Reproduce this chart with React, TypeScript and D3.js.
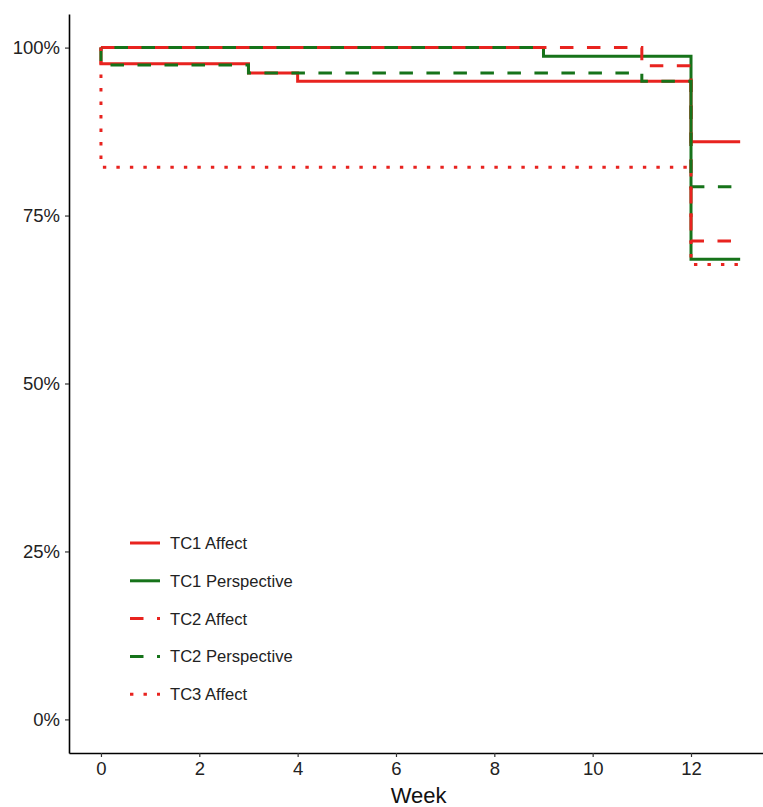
import React, { useEffect, useRef } from 'react';
import * as d3 from 'd3';

// survival-style step data (week, proportion)
const tc1AffectWeeks = [0, 0, 3, 4, 12, 13];
const tc1AffectVals = [1, 0.976, 0.962, 0.95, 0.86, 0.86];

const tc1PerspWeeks = [0, 9, 12, 13];
const tc1PerspVals = [1, 0.987, 0.685, 0.685];

const tc2AffectWeeks = [0, 11, 12, 13];
const tc2AffectVals = [1, 0.973, 0.712, 0.712];

const tc2PerspWeeks = [0, 0, 3, 11, 12, 13];
const tc2PerspVals = [1, 0.974, 0.962, 0.95, 0.793, 0.793];

const tc3AffectWeeks = [0, 0, 12, 13];
const tc3AffectVals = [1, 0.822, 0.677, 0.677];

const seriesNames = ['TC1 Affect', 'TC1 Perspective', 'TC2 Affect', 'TC2 Perspective', 'TC3 Affect'];
const xTicks = [0, 2, 4, 6, 8, 10, 12];
const yTicks = [0, 0.25, 0.5, 0.75, 1];

const RED = '#e8231f';
const GREEN = '#16731a';

export default function App() {
    const ref = useRef<SVGSVGElement>(null);

    useEffect(() => {
        const svg = d3.select(ref.current);
        svg.selectAll('*').remove();

        const left = 69;
        const top = 14;
        const bottom = 753;
        const font = 'Liberation Sans, Arial, sans-serif';

        const x = d3.scaleLinear().domain([-0.65, 13.65]).range([left, left + 14.3 * 49.17]);
        const y = d3.scaleLinear().domain([-0.05, 1.05]).range([bottom, top]);

        const series = [
            { name: seriesNames[0], weeks: tc1AffectWeeks, vals: tc1AffectVals, color: RED, dash: null },
            { name: seriesNames[1], weeks: tc1PerspWeeks, vals: tc1PerspVals, color: GREEN, dash: null },
            { name: seriesNames[2], weeks: tc2AffectWeeks, vals: tc2AffectVals, color: RED, dash: '13.5,13.5' },
            { name: seriesNames[3], weeks: tc2PerspWeeks, vals: tc2PerspVals, color: GREEN, dash: '13.5,13.5' },
            { name: seriesNames[4], weeks: tc3AffectWeeks, vals: tc3AffectVals, color: RED, dash: '3.4,10.1' },
        ];

        const line = d3.line<[number, number]>()
            .x(d => x(d[0]))
            .y(d => y(d[1]))
            .curve(d3.curveStepAfter);

        //draw step lines
        series.forEach(s => {
            const pts = s.weeks.map((w, i) => [w, s.vals[i]] as [number, number]);
            svg.append('path')
                .attr('d', line(pts))
                .attr('fill', 'none')
                .attr('stroke', s.color)
                .attr('stroke-width', 3)
                .attr('stroke-dasharray', s.dash)
        });

        //axes
        const xAxis = svg.append('g')
            .attr('transform', `translate(0,${bottom})`)
            .call(d3.axisBottom(x).tickValues(xTicks).tickSize(4).tickSizeOuter(0).tickPadding(5));
        const yAxis = svg.append('g')
            .attr('transform', `translate(${left},0)`)
            .call(d3.axisLeft(y).tickValues(yTicks).tickSize(4).tickSizeOuter(0).tickPadding(5)
                .tickFormat(d => `${Math.round(+d * 100)}%`));

        [xAxis, yAxis].forEach(g => {
            g.select('.domain').attr('stroke', '#000').attr('stroke-width', 1.6);
            g.selectAll('.tick line').attr('stroke', '#333').attr('stroke-width', 1.2);
            g.selectAll('.tick text').attr('fill', '#222').attr('font-size', 18.5).attr('font-family', font);
        });

        svg.append('text')
            .attr('x', x(6.5) - 2)
            .attr('y', 803)
            .attr('text-anchor', 'middle')
            .attr('font-size', 22)
            .attr('font-family', font)
            .attr('fill', '#111')
            .text('Week');

        //legend
        const legend = svg.append('g').attr('transform', 'translate(130,543)');
        series.forEach((s, i) => {
            const row = legend.append('g').attr('transform', `translate(0,${i * 37.8})`);
            row.append('line')
                .attr('x1', 0).attr('x2', 30)
                .attr('stroke', s.color)
                .attr('stroke-width', 3)
                .attr('stroke-dasharray', s.dash);
            row.append('text')
                .attr('x', 40)
                .attr('y', 6)
                .attr('font-size', 16.6)
                .attr('font-family', font)
                .attr('fill', '#222')
                .text(s.name);
        });
    }, []);

    return <svg ref={ref} width={763} height={807} style={{ display: 'block', position: 'absolute', left: 0, top: 0 }} />;
}
